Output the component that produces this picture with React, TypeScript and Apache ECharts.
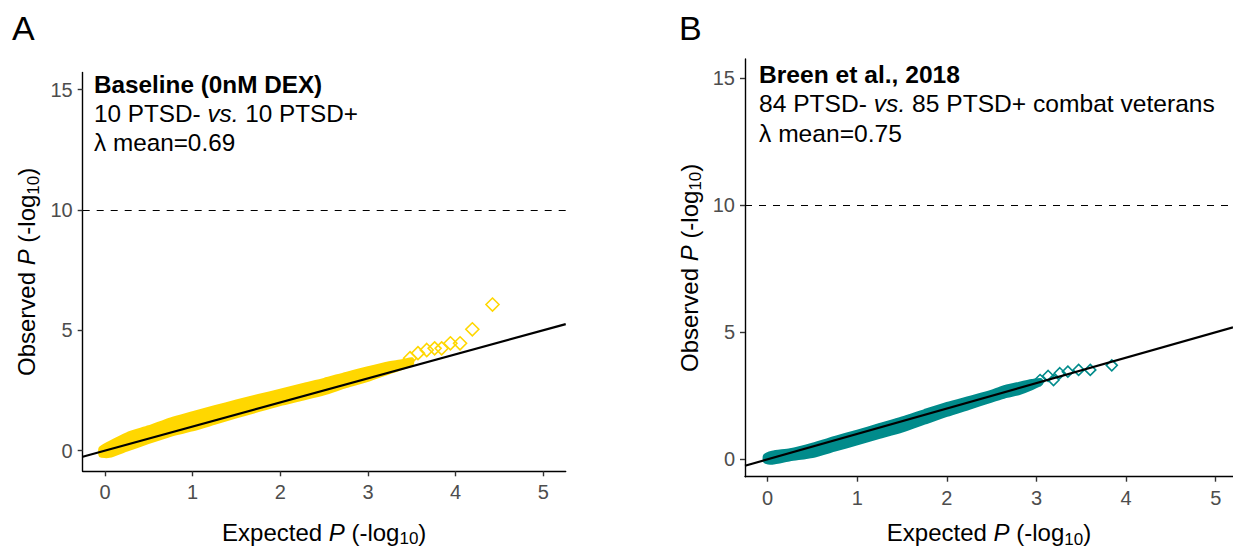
import React, { useEffect, useRef } from "react";
import * as echarts from "echarts";

// ---- data ----
const xTicks = [0, 1, 2, 3, 4, 5];
const yTicks = [0, 5, 10, 15];
const thresholdLine = 10;

// Panel A: Baseline (0nM DEX) - dense band of points (x, lower edge, upper edge)
const bandAX = [-0.05, 0.05, 0.25, 0.5, 0.75, 1.0, 1.25, 1.5, 1.75, 2.0, 2.25, 2.5, 2.75, 3.0, 3.2, 3.4, 3.5];
const bandAHi = [0.1, 0.32, 0.68, 0.97, 1.3, 1.55, 1.8, 2.04, 2.27, 2.49, 2.72, 2.94, 3.19, 3.42, 3.6, 3.72, 3.8];
const bandALo = [-0.2, -0.22, 0.04, 0.36, 0.66, 0.88, 1.15, 1.42, 1.68, 1.93, 2.15, 2.38, 2.68, 2.94, 3.2, 3.45, 3.6];
// Panel A: separate tail points
const tailAX = [3.48, 3.57, 3.67, 3.76, 3.84, 3.94, 4.05, 4.19, 4.42];
const tailAY = [3.84, 4.05, 4.18, 4.25, 4.25, 4.46, 4.46, 5.04, 6.07];

// Panel B: Breen et al., 2018
const bandBX = [-0.03, 0.05, 0.25, 0.5, 0.75, 1.0, 1.25, 1.5, 1.75, 2.0, 2.25, 2.5, 2.65, 2.8, 2.95, 3.05];
const bandBHi = [0.14, 0.26, 0.36, 0.58, 0.84, 1.09, 1.35, 1.61, 1.9, 2.18, 2.42, 2.66, 2.85, 2.97, 3.08, 3.12];
const bandBLo = [-0.08, -0.14, 0.0, 0.13, 0.38, 0.63, 0.88, 1.13, 1.44, 1.75, 2.03, 2.31, 2.48, 2.6, 2.8, 2.98];
const tailBX = [3.04, 3.13, 3.19, 3.26, 3.35, 3.47, 3.6, 3.84];
const tailBY = [3.12, 3.28, 3.12, 3.39, 3.45, 3.52, 3.52, 3.7];

// axis limits
const xLimA = [-0.254, 5.255];
const yLimA = [-0.86, 15.71];
const xLimB = [-0.253, 5.193];
const yLimB = [-0.685, 15.76];

const GOLD = "#FFD700";
const TEAL = "#008B8B";
const FONT = "'Liberation Sans', Arial, Helvetica, sans-serif";

function makeAxes(gridIndex: number, xl: number[], yl: number[], xGap: number, yGap: number) {
  const common = {
    gridIndex,
    type: "value" as const,
    splitLine: { show: false },
    axisLine: { show: true, onZero: false, lineStyle: { color: "#000", width: 1.4 } },
    axisTick: { show: true, inside: false, length: 5, lineStyle: { color: "#333", width: 1.4 } },
  };
  const titleRich = {
    a: { fontSize: 24, fontFamily: FONT, color: "#000", lineHeight: 27, verticalAlign: "top" },
    i: { fontSize: 24, fontFamily: FONT, color: "#000", fontStyle: "italic", lineHeight: 27, verticalAlign: "top" },
    s: { fontSize: 17, fontFamily: FONT, color: "#000", lineHeight: 17, verticalAlign: "top", padding: [10, 0, 0, 0] },
  };
  const xAxis = {
    ...common,
    min: xl[0],
    max: xl[1],
    axisTick: { ...common.axisTick, customValues: xTicks },
    axisLabel: { customValues: xTicks, color: "#4D4D4D", fontSize: 20, fontFamily: FONT, margin: 11 },
    name: "{a|Expected }{i|P}{a| (-log}{s|10}{a|)}",
    nameLocation: "middle",
    nameGap: xGap,
    nameTextStyle: { rich: titleRich },
  };
  const yAxis = {
    ...common,
    min: yl[0],
    max: yl[1],
    axisTick: { ...common.axisTick, customValues: yTicks },
    axisLabel: { customValues: yTicks, color: "#4D4D4D", fontSize: 20, fontFamily: FONT, margin: 10 },
    name: "{a|Observed }{i|P}{a| (-log}{s|10}{a|)}",
    nameLocation: "middle",
    nameRotate: 90,
    nameGap: yGap,
    nameTextStyle: { rich: titleRich },
  };
  return { xAxis, yAxis };
}

function bandSeries(idx: number, xs: number[], lo: number[], hi: number[], color: string) {
  const rows = xs.map((x, i) => [x, lo[i], hi[i]]);
  return {
    type: "custom",
    xAxisIndex: idx,
    yAxisIndex: idx,
    z: 2,
    silent: true,
    data: rows,
    encode: { x: 0, y: [1, 2] },
    renderItem: (params: any, api: any) => {
      if (params.dataIndex !== 0) return null;
      const top = xs.map((x, i) => api.coord([x, hi[i]]));
      const bottom = xs.map((x, i) => api.coord([x, lo[i]])).reverse();
      return {
        type: "polygon",
        shape: { points: top.concat(bottom), smooth: 0.2 },
        style: { fill: color, stroke: color, lineWidth: 4, lineJoin: "round" },
      };
    },
  };
}

function tailSeries(idx: number, xs: number[], ys: number[], color: string, size: number) {
  return {
    type: "scatter",
    xAxisIndex: idx,
    yAxisIndex: idx,
    z: 3,
    symbol: "diamond",
    symbolSize: size,
    itemStyle: { color: "rgba(0,0,0,0)", borderColor: color, borderWidth: 1.6, opacity: 1 },
    data: xs.map((x, i) => [x, ys[i]]),
  };
}

function refSeries(idx: number, xl: number[]) {
  return {
    type: "line",
    xAxisIndex: idx,
    yAxisIndex: idx,
    z: 4,
    symbol: "none",
    silent: true,
    lineStyle: { color: "#000", width: 2.2 },
    data: [
      [xl[0], xl[0]],
      [xl[1], xl[1]],
    ],
    markLine: {
      silent: true,
      symbol: "none",
      label: { show: false },
      lineStyle: { color: "#000", width: 1, type: [7, 7] },
      data: [{ yAxis: thresholdLine }],
    },
  };
}

function annotation(x: number, y0: number, boldText: string, line2: any[], line3: string, fs: number) {
  const base = { fontSize: fs, fontFamily: FONT, fill: "#000", color: "#000" };
  return [
    {
      type: "text",
      x,
      y: y0,
      style: { text: boldText, ...base, fontWeight: "bold", verticalAlign: "middle" },
    },
    {
      type: "text",
      x,
      y: y0 + 29.3,
      style: {
        text: line2.map((p) => `{${p[0]}|${p[1]}}`).join(""),
        ...base,
        verticalAlign: "middle",
        rich: { n: { ...base }, i: { ...base, fontStyle: "italic" } },
      },
    },
    {
      type: "text",
      x,
      y: y0 + 58.6,
      style: { text: line3, ...base, verticalAlign: "middle" },
    },
  ];
}

export default function App() {
  const ref = useRef<HTMLDivElement>(null);
  useEffect(() => {
    if (!ref.current) return;
    const chart = echarts.init(ref.current, null, { renderer: "svg" });
    const a = makeAxes(0, xLimA, yLimA, 49, 41);
    const b = makeAxes(1, xLimB, yLimB, 44, 41);
    const option: any = {
      animation: false,
      backgroundColor: "#fff",
      grid: [
        { left: 82.7, top: 72.5, width: 483, height: 398.8, containLabel: false, outerBoundsMode: "none" },
        { left: 745, top: 59, width: 488, height: 417.7, containLabel: false, outerBoundsMode: "none" },
      ],
      xAxis: [a.xAxis, b.xAxis],
      yAxis: [a.yAxis, b.yAxis],
      series: [
        bandSeries(0, bandAX, bandALo, bandAHi, GOLD),
        tailSeries(0, tailAX, tailAY, GOLD, 13),
        refSeries(0, xLimA),
        bandSeries(1, bandBX, bandBLo, bandBHi, TEAL),
        tailSeries(1, tailBX, tailBY, TEAL, 11),
        refSeries(1, xLimB),
      ],
      graphic: [
        { type: "text", x: 12, y: 28, style: { text: "A", fontSize: 34, fontFamily: FONT, fill: "#000", verticalAlign: "middle" } },
        { type: "text", x: 679, y: 28, style: { text: "B", fontSize: 34, fontFamily: FONT, fill: "#000", verticalAlign: "middle" } },
        ...annotation(94, 84, "Baseline (0nM DEX)", [["n", "10 PTSD- "], ["i", "vs."], ["n", " 10 PTSD+"]], "λ mean=0.69", 24.3),
        ...annotation(759, 74.5, "Breen et al., 2018", [["n", "84 PTSD- "], ["i", "vs."], ["n", " 85 PTSD+ combat veterans"]], "λ mean=0.75", 24.6),
      ],
    };
    chart.setOption(option);
    return () => chart.dispose();
  }, []);
  return (
    <div
      ref={ref}
      style={{ position: "absolute", left: 0, top: 0, width: 1233, height: 548, background: "#fff" }}
    />
  );
}
